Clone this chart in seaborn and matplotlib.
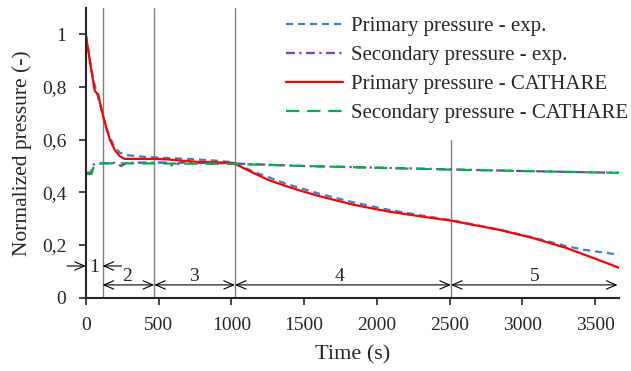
import numpy as np
import pandas as pd
import matplotlib
matplotlib.use("Agg")
import matplotlib.pyplot as plt
import seaborn as sns

# primary pressure - CATHARE (red solid)
t_prim_cat = [0, 30, 62, 85, 119, 165, 200, 234, 268, 400, 508, 650, 784, 900, 1012,
              1150, 1250, 1379, 1500, 1608, 1838, 2067, 2296, 2513, 2845, 3075, 3305,
              3500, 3665]
p_prim_cat = [1.0, 0.89, 0.785, 0.772, 0.69, 0.60, 0.56, 0.537, 0.527, 0.527, 0.527,
              0.521, 0.515, 0.514, 0.512, 0.474, 0.448, 0.423, 0.402, 0.385, 0.353,
              0.328, 0.309, 0.292, 0.257, 0.226, 0.188, 0.148, 0.113]

# primary pressure - exp (blue dashed)
t_prim_exp = [0, 25, 50, 100, 142, 190, 234, 300, 400, 500, 700, 900, 1012, 1150,
              1379, 1608, 1838, 2067, 2296, 2513, 2845, 3075, 3305, 3420, 3665]
p_prim_exp = [1.0, 0.92, 0.83, 0.73, 0.64, 0.58, 0.55, 0.54, 0.535, 0.532, 0.527, 0.52,
              0.514, 0.479, 0.432, 0.394, 0.362, 0.335, 0.313, 0.294, 0.258, 0.228,
              0.195, 0.182, 0.163]

# secondary pressure - exp (purple dash-dot)
t_sec_exp = [0, 35, 50, 100, 200, 243, 280, 400, 550, 600, 650, 800, 1000, 1500,
             2000, 2527, 3000, 3665]
p_sec_exp = [0.474, 0.474, 0.505, 0.51, 0.512, 0.50, 0.512, 0.513, 0.513, 0.50, 0.513,
             0.512, 0.51, 0.50, 0.494, 0.487, 0.481, 0.474]

# secondary pressure - CATHARE (green long dash)
t_sec_cat = [0, 40, 55, 70, 300, 1000, 1500, 2000, 2527, 3000, 3665]
p_sec_cat = [0.47, 0.47, 0.50, 0.51, 0.51, 0.508, 0.500, 0.493, 0.486, 0.481, 0.474]

phase_bounds = [115, 470, 1025, 2510]
phase_labels = ["1", "2", "3", "4", "5"]

sns.set_style("ticks")
plt.rcParams['font.family'] = ['Liberation Serif', 'DejaVu Serif']

fig = plt.figure(figsize=(6.31, 3.71), dpi=100)
ax = fig.add_axes([0.136, 0.198, 0.845, 0.78])

sns.lineplot(x=t_prim_exp, y=p_prim_exp, ax=ax, color="#2E86D0", lw=1.6,
             linestyle=(0, (3.2, 2.2)), label="Primary pressure - exp.")
sns.lineplot(x=t_sec_exp, y=p_sec_exp, ax=ax, color="#7B3FB5", lw=1.6,
             linestyle=(0, (4, 2, 1, 2)), label="Secondary pressure - exp.")
sns.lineplot(x=t_prim_cat, y=p_prim_cat, ax=ax, color="#FF0000", lw=1.6,
             linestyle="-", label="Primary pressure - CATHARE")
sns.lineplot(x=t_sec_cat, y=p_sec_cat, ax=ax, color="#00B050", lw=1.6,
             linestyle=(0, (6, 3.5)), label="Secondary pressure - CATHARE")

# phase boundaries
for i, b in enumerate(phase_bounds):
    top = 1.1 if i < 3 else 0.6
    ax.plot([b, b], [0, top], color="#7f7f7f", lw=1.0, zorder=1)

aprops = dict(arrowstyle="<->,head_length=0.7,head_width=0.3", lw=0.8,
              color="black", shrinkA=0, shrinkB=0)
oprops = dict(arrowstyle="->,head_length=0.7,head_width=0.3", lw=0.8,
              color="black", shrinkA=0, shrinkB=0)

# phase 1 arrows
ax.annotate("", xy=(0, 0.12), xytext=(-130, 0.12), arrowprops=oprops,
            annotation_clip=False)
ax.annotate("", xy=(phase_bounds[0], 0.12), xytext=(245, 0.12), arrowprops=oprops,
            annotation_clip=False)
ax.text(60, 0.113, phase_labels[0], ha="center", va="center", fontsize=14)

edges = phase_bounds + [3655]
label_x = [282, 742, 1745, 3085]
for j in range(4):
    ax.annotate("", xy=(edges[j + 1], 0.048), xytext=(edges[j], 0.048),
                arrowprops=aprops, annotation_clip=False)
    ax.text(label_x[j], 0.08, phase_labels[j + 1], ha="center", va="center",
            fontsize=14)

ax.set_xlim(0, 3665)
ax.set_ylim(0, 1.1)
ax.set_xticks([0, 500, 1000, 1500, 2000, 2500, 3000, 3500])
ax.set_yticks([0, 0.2, 0.4, 0.6, 0.8, 1.0])
ax.set_yticklabels(["0", "0,2", "0,4", "0,6", "0,8", "1"])
ax.tick_params(labelsize=14, width=1.2, length=5, direction="out")
ax.tick_params(axis="y", pad=9)
ax.tick_params(axis="x", pad=9)
for s in ["left", "bottom"]:
    ax.spines[s].set_linewidth(1.5)
sns.despine(ax=ax)

ax.set_xlabel("Time (s)", fontsize=16, labelpad=8)
ax.set_ylabel("Normalized pressure (-)", fontsize=15.5, labelpad=7)

ax.legend(loc="upper left", bbox_to_anchor=(0.375, 0.972), frameon=False,
          fontsize=15, handlelength=2.75, handletextpad=0.4, labelspacing=0.46,
          borderaxespad=0, borderpad=0)

fig.savefig("out.png", dpi=100)
